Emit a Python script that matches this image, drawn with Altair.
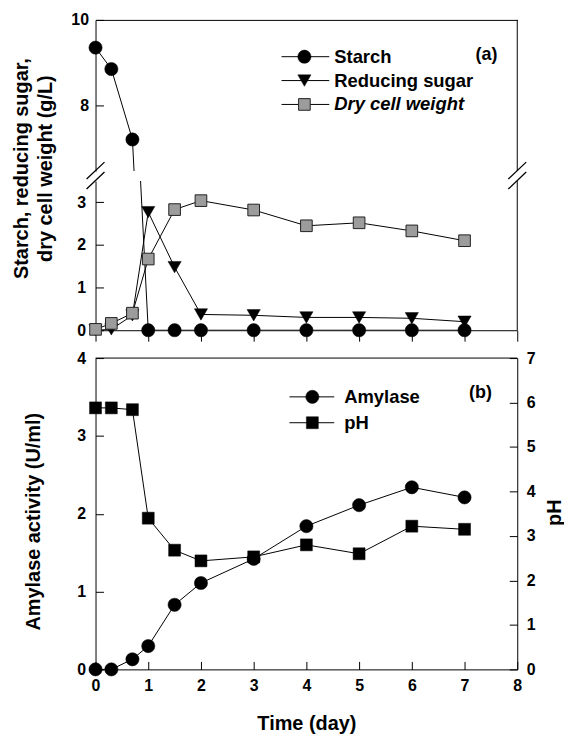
import altair as alt
import pandas as pd

# ---------------- data ----------------
time_day = [0, 0.3, 0.7, 1, 1.5, 2, 3, 4, 5, 6, 7]
starch = [9.35, 8.85, 7.2, 0, 0, 0, 0, 0, 0, 0, 0]
reducing_sugar = [0, 0.02, 0.35, 2.77, 1.48, 0.37, 0.35, 0.3, 0.3, 0.28, 0.2]
dry_cell_weight = [0.02, 0.16, 0.4, 1.67, 2.83, 3.04, 2.82, 2.45, 2.52, 2.33, 2.1]
amylase = [0, 0, 0.13, 0.3, 0.83, 1.11, 1.42, 1.84, 2.11, 2.34, 2.21]
ph = [5.88, 5.88, 5.84, 3.4, 2.68, 2.44, 2.53, 2.8, 2.6, 3.22, 3.15]

series_a = ["Starch", "Reducing sugar", "Dry cell weight"]
series_b = ["Amylase", "pH"]
panel_tags = ["(a)", "(b)"]
x_ticks = [0, 1, 2, 3, 4, 5, 6, 7, 8]
y_ticks_upper = [8, 10]
y_ticks_lower = [0, 1, 2, 3]
amylase_ticks = [0, 1, 2, 3, 4]
ph_ticks = [0, 1, 2, 3, 4, 5, 6, 7]
y_title_a = ["Starch, reducing sugar,", "dry cell weight (g/L)"]
y_title_b = "Amylase activity (U/ml)"
y2_title_b = "pH"
x_title = "Time (day)"

# ---------------- layout / style ----------------
FONT = "Liberation Sans"
W = 424
H_UP, H_LO, H_B = 152, 150, 313
UP_DOM = [6.46, 10]
LO_DOM = [0, 3.5]

MARK = {
    "Starch": dict(shape="circle", size=177, fill="black", stroke="black", strokeWidth=0.5),
    "Reducing sugar": dict(shape="triangle-down", size=175, fill="black", stroke="black", strokeWidth=0.5),
    "Dry cell weight": dict(shape="square", size=137, fill="#9c9c9c", stroke="#222222", strokeWidth=1),
    "Amylase": dict(shape="circle", size=177, fill="black", stroke="black", strokeWidth=0.5),
    "pH": dict(shape="square", size=144, fill="black", stroke="black", strokeWidth=0.5),
}

one = pd.DataFrame({"k": [0]})

df_a = pd.DataFrame({
    "time": time_day * 3,
    "value": starch + reducing_sugar + dry_cell_weight,
    "series": [s for s in series_a for _ in time_day],
})
df_b = pd.DataFrame({"time": time_day, "amylase": amylase, "ph": ph})

xscale = alt.Scale(domain=[0, 8], nice=False, zero=False)


def tick_in(n):
    return alt.ExprRef(expr=str(-n))


def pts(df, name, xenc, yenc, filt=None):
    ch = alt.Chart(df)
    if filt is not None:
        ch = ch.transform_filter(filt)
    return ch.mark_point(filled=True, opacity=1, **MARK[name]).encode(x=xenc, y=yenc)


def legend_layers(names, x0, x1, xm, xt, y0, dy):
    out = []
    for i, name in enumerate(names):
        y = y0 + i * dy
        out.append(alt.Chart(one).mark_rule(color="black", strokeWidth=1).encode(
            x=alt.value(x0), x2=alt.value(x1), y=alt.value(y), y2=alt.value(y)))
        out.append(alt.Chart(one).mark_point(filled=True, opacity=1, **MARK[name]).encode(
            x=alt.value(xm), y=alt.value(y)))
        out.append(alt.Chart(one).mark_text(
            text=name, font=FONT, fontSize=18.5, fontWeight="bold",
            fontStyle="italic" if name == "Dry cell weight" else "normal",
            align="left", baseline="middle", color="black").encode(
            x=alt.value(xt), y=alt.value(y)))
    return out


def tag(text, x, y):
    return alt.Chart(one).mark_text(text=text, font=FONT, fontSize=18, fontWeight="bold",
                                    align="center", baseline="middle", color="black").encode(
        x=alt.value(x), y=alt.value(y))


def vrule(x, y0, y1):
    return alt.Chart(one).mark_rule(color="black", strokeWidth=1).encode(
        x=alt.value(x), y=alt.value(y0), y2=alt.value(y1))


def seg(xa, ya, xb, yb):
    return alt.Chart(one).mark_rule(color="black", strokeWidth=1.3).encode(
        x=alt.value(xa), y=alt.value(ya), x2=alt.value(xb), y2=alt.value(yb))


# ---------------- panel (a), upper part ----------------
up_x = alt.X("time:Q", scale=xscale,
             axis=alt.Axis(orient="top", labels=False, ticks=False, title=None, grid=False))
up_y = alt.Y("value:Q", scale=alt.Scale(domain=UP_DOM, nice=False, zero=False),
             axis=alt.Axis(values=y_ticks_upper, title=None, tickSize=tick_in(8),
                           labelPadding=15, grid=False))
up_lines = alt.Chart(df_a).mark_line(color="black", strokeWidth=1, clip=True).encode(
    x=up_x, y=up_y, detail="series:N")
up_pts = [pts(df_a, s, up_x, up_y,
              (alt.datum.series == s) & (alt.datum.value >= UP_DOM[0]))
          for s in series_a]
upper = alt.layer(
    up_lines, *up_pts, vrule(W, 0, H_UP),
    *legend_layers(series_a, 187, 235, 210, 240, 37, 24),
    tag(panel_tags[0], 393, 35),
).properties(width=W, height=H_UP)

# ---------------- panel (a), lower part ----------------
lo_x = alt.X("time:Q", scale=xscale,
             axis=alt.Axis(values=x_ticks, labels=False, ticks=True, tickSize=11,
                           title=None, grid=False))
lo_y = alt.Y("value:Q", scale=alt.Scale(domain=LO_DOM, nice=False, zero=False),
             axis=alt.Axis(values=y_ticks_lower, title=y_title_a, tickSize=tick_in(8),
                           labelPadding=18, grid=False, titleAngle=270, titleX=-74,
                           titleY=-13, titleBaseline="middle", titleAlign="center",
                           titleLineHeight=24))
lo_lines = alt.Chart(df_a).mark_line(color="black", strokeWidth=1, clip=True).encode(
    x=lo_x, y=lo_y, detail="series:N")
lo_pts = [pts(df_a, s, lo_x, lo_y,
              (alt.datum.series == s) & (alt.datum.value <= LO_DOM[1]))
          for s in series_a]
lower = alt.layer(
    lo_lines, *lo_pts, vrule(W, 0, H_LO),
    seg(-9, -2, 9, -19), seg(-9, 8, 9, -9),
    seg(W - 9, -2, W + 9, -19), seg(W - 9, 8, W + 9, -9),
).properties(width=W, height=H_LO)

panel_a = alt.vconcat(upper, lower, spacing=10, bounds="flush").resolve_scale(
    x="independent", y="independent")

# ---------------- panel (b) ----------------
xb = alt.X("time:Q", scale=xscale,
           axis=alt.Axis(values=x_ticks, title=x_title, tickSize=tick_in(8), labelPadding=16,
                         labelFlush=False, grid=False, titleY=60, titleBaseline="alphabetic"))
y_amy = alt.Y("amylase:Q", scale=alt.Scale(domain=[0, 4], nice=False, zero=False),
              axis=alt.Axis(values=amylase_ticks, title=y_title_b, tickSize=tick_in(8),
                            labelPadding=18, grid=False, titleAngle=270, titleX=-62,
                            titleY=164, titleBaseline="middle", titleAlign="center"))
y_ph = alt.Y("ph:Q", scale=alt.Scale(domain=[0, 7], nice=False, zero=False),
             axis=alt.Axis(orient="right", values=ph_ticks, title=y2_title_b,
                           tickSize=tick_in(8), labelPadding=17, grid=False, titleAngle=270,
                           titleX=37, titleY=155, titleBaseline="middle", titleAlign="center"))

amy_layer = alt.layer(
    alt.Chart(df_b).mark_line(color="black", strokeWidth=1).encode(x=xb, y=y_amy),
    pts(df_b, "Amylase", xb, y_amy),
)
ph_layer = alt.layer(
    alt.Chart(df_b).mark_line(color="black", strokeWidth=1).encode(x=xb, y=y_ph),
    pts(df_b, "pH", xb, y_ph),
)
deco_b = alt.layer(
    alt.Chart(one).mark_rule(color="black", strokeWidth=1).encode(
        x=alt.value(0), x2=alt.value(W), y=alt.value(0), y2=alt.value(0)),
    *legend_layers(series_b, 195, 240, 218, 250, 39, 26),
    tag(panel_tags[1], 387, 35),
)
panel_b = alt.layer(amy_layer, ph_layer, deco_b).resolve_scale(y="independent").properties(
    width=W, height=H_B)

chart = alt.vconcat(panel_a, panel_b, spacing=8).resolve_scale(
    x="independent", y="independent"
).properties(
    padding={"left": 3, "top": 2, "right": 0, "bottom": 0}
).configure_view(stroke=None).configure_axis(
    labelFont=FONT, labelFontSize=16, labelFontWeight="bold", labelColor="black",
    titleFont=FONT, titleFontSize=20, titleFontWeight="bold", titleColor="black",
    domainColor="black", tickColor="black", domainWidth=1, tickWidth=1, grid=False,
)

chart.save("out.html", embed_options={"renderer": "svg", "actions": False})
